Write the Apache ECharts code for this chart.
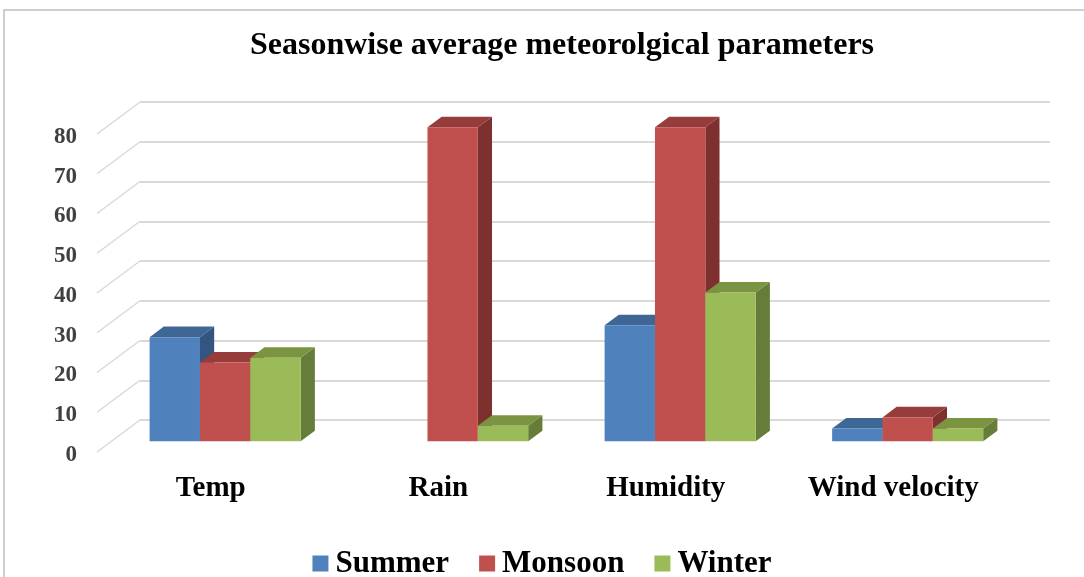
<!DOCTYPE html>
<html><head><meta charset="utf-8">
<script src="https://cdn.jsdelivr.net/npm/echarts@6/dist/echarts.min.js"></script>
<style>html,body{margin:0;padding:0;background:#fff}#c{width:1084px;height:577px}</style>
</head><body><div id="c"></div>
<script>
// ---- data ----
const categories = ['Temp', 'Rain', 'Humidity', 'Wind velocity'];
const seriesNames = ['Summer', 'Monsoon', 'Winter'];
const summer = [26.2, 0, 29.2, 3.2];
const monsoon = [19.8, 79, 79, 6];
const winter = [21, 3.9, 37.4, 3.2];
const yTicks = [0, 10, 20, 30, 40, 50, 60, 70, 80];

// ---- style / layout ----
const FACE = ['#4F81BD', '#C0504D', '#9BBB59'];
const TOP = ['#3E6796', '#963D3B', '#7A9441'];
const SIDE = ['#335580', '#7E302F', '#667C39'];
const BACK = {left: 140, right: 34, top: 102, bottom: 157};
const DX = -43, DY = 32;              // depth offset back wall -> front edge
const FRONT = {left: BACK.left + DX, right: BACK.right - DX, top: BACK.top + DY, bottom: BACK.bottom - DY};
const GROUP = 0.664;                  // fraction of band used by a cluster
const D0 = 0.335, D1 = 0.665;         // bar depth range (0 = back, 1 = front)
const FONT = '"Liberation Serif", "Times New Roman", serif';

const seriesData = [summer, monsoon, winter];

function barRender(s) {
  return function (params, api) {
    const i = api.value(0), v = api.value(1);
    if (!v) return null;
    const band = api.size([1, 0])[0];
    const c = api.coord([i, v]);
    const b = api.coord([i, 0]);
    const gw = band * GROUP, bw = gw / 3;
    const x0 = c[0] - gw / 2 + s * bw;
    const fx = DX * D1, fy = DY * D1, bx = DX * D0, by = DY * D0;
    const fl = x0 + fx, fr = x0 + bw + fx, ft = c[1] + fy, fb = b[1] + fy;
    const bl = x0 + bx, br = x0 + bw + bx, bt = c[1] + by, bb = b[1] + by;
    return {
      type: 'group',
      children: [
        {type: 'polygon', shape: {points: [[fr, ft], [br, bt], [br, bb], [fr, fb]]}, style: {fill: SIDE[s]}},
        {type: 'polygon', shape: {points: [[fl, ft], [fr, ft], [br, bt], [bl, bt]]}, style: {fill: TOP[s]}},
        {type: 'rect', shape: {x: fl, y: ft, width: bw, height: fb - ft}, style: {fill: FACE[s]}}
      ]
    };
  };
}

const chart = echarts.init(document.getElementById('c'), null, {renderer: 'canvas'});
const series = [
  {
    type: 'custom', name: '_diag', xAxisIndex: 0, yAxisIndex: 0, silent: true,
    data: yTicks.map(t => [0, t]),
    renderItem: function (params, api) {
      const band = api.size([1, 0])[0];
      const c = api.coord([0, api.value(1)]);
      const x = c[0] - band / 2;
      return {type: 'line', shape: {x1: x, y1: c[1], x2: x + DX, y2: c[1] + DY},
        style: {stroke: '#d9d9d9', lineWidth: 1.5}};
    },
    z: 1
  }
];
seriesNames.forEach((n, s) => {
  series.push({
    type: 'custom', name: n, xAxisIndex: 0, yAxisIndex: 0,
    itemStyle: {color: FACE[s]},
    data: seriesData[s].map((v, i) => [i, v]),
    renderItem: barRender(s),
    z: 2 + s
  });
});
// invisible series on front grid so its axes render
series.push({type: 'bar', name: '_f', xAxisIndex: 1, yAxisIndex: 1, data: [], silent: true});

chart.setOption({
  animation: false,
  backgroundColor: '#fff',
  graphic: [{type: 'rect', shape: {x: 4, y: 10, width: 1200, height: 700}, style: {fill: null, stroke: '#bfbfbf', lineWidth: 1.5}, z: -1}],
  title: {
    text: 'Seasonwise average meteorolgical parameters',
    left: 557, textAlign: 'center', top: 25,
    textStyle: {fontFamily: FONT, fontWeight: 'bold', fontSize: 32, color: '#000'}
  },
  legend: {
    data: seriesNames, top: 543, left: 'center',
    icon: 'rect', itemWidth: 16, itemHeight: 16, itemGap: 30,
    textStyle: {fontFamily: FONT, fontWeight: 'bold', fontSize: 31, color: '#000', padding: [0, 0, 0, 2]}
  },
  grid: [
    {left: BACK.left, right: BACK.right, top: BACK.top, bottom: BACK.bottom},
    {left: FRONT.left, right: FRONT.right, top: FRONT.top, bottom: FRONT.bottom}
  ],
  xAxis: [
    {type: 'category', gridIndex: 0, data: categories, show: false},
    {type: 'category', gridIndex: 1, data: categories, axisLine: {show: false}, axisTick: {show: false},
      axisLabel: {margin: 22, fontFamily: FONT, fontWeight: 'bold', fontSize: 29, color: '#000'}}
  ],
  yAxis: [
    {type: 'value', gridIndex: 0, min: 0, max: 80, interval: 10,
      axisLabel: {show: false}, axisLine: {show: false}, axisTick: {show: false},
      splitLine: {lineStyle: {color: '#d9d9d9', width: 2}}},
    {type: 'value', gridIndex: 1, min: 0, max: 80, interval: 10,
      axisLine: {show: false}, axisTick: {show: false}, splitLine: {show: false},
      axisLabel: {margin: 20, fontFamily: FONT, fontWeight: 'bold', fontSize: 23, color: '#404040', lineHeight: 30, verticalAlign: 'top', padding: [-12, 0, 0, 0]}}
  ],
  series: series
});
</script></body></html>
